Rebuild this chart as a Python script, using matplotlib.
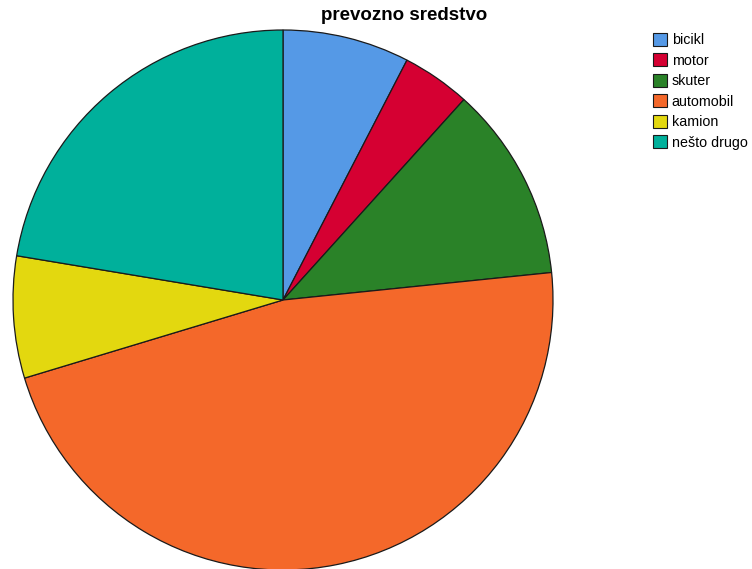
import matplotlib.pyplot as plt
from matplotlib.patches import Patch

labels = ['bicikl', 'motor', 'skuter', 'automobil', 'kamion', 'nešto drugo']
values = [7.6, 4.1, 11.7, 47.0, 7.3, 22.4]
colors = ['#5599e6', '#d50032', '#2a8228', '#f4682a', '#e3d80f', '#00b09b']

plt.rcParams['font.family'] = ['Liberation Sans', 'DejaVu Sans']

W, H = 752, 569
fig = plt.figure(figsize=(W / 100, H / 100), dpi=100)

# pie centre ~ (283, 300) px, radius ~270 px
cx, cy, r = 283, 300, 270
ax = fig.add_axes([(cx - r) / W, (H - cy - r) / H, 2 * r / W, 2 * r / H])
ax.pie(values, colors=colors, startangle=90, counterclock=False,
       wedgeprops=dict(edgecolor='#1a1a1a', linewidth=0.9))
ax.set_xlim(-1, 1)
ax.set_ylim(-1, 1)
ax.set_aspect('auto')
ax.axis('off')

fig.text(404 / W, 1 - 16 / H, 'prevozno sredstvo', ha='center', va='center',
         fontsize=13.5, fontweight='bold')

handles = [Patch(facecolor=c, edgecolor='#1a1a1a', linewidth=0.8) for c in colors]
fig.legend(handles, labels, loc='upper left', bbox_to_anchor=(653 / W, 1 - 33 / H),
           frameon=False, fontsize=10.3, handlelength=0.95, handleheight=1.0,
           handletextpad=0.35, labelspacing=0.43, borderaxespad=0, borderpad=0)

fig.savefig('out.png', dpi=100)
